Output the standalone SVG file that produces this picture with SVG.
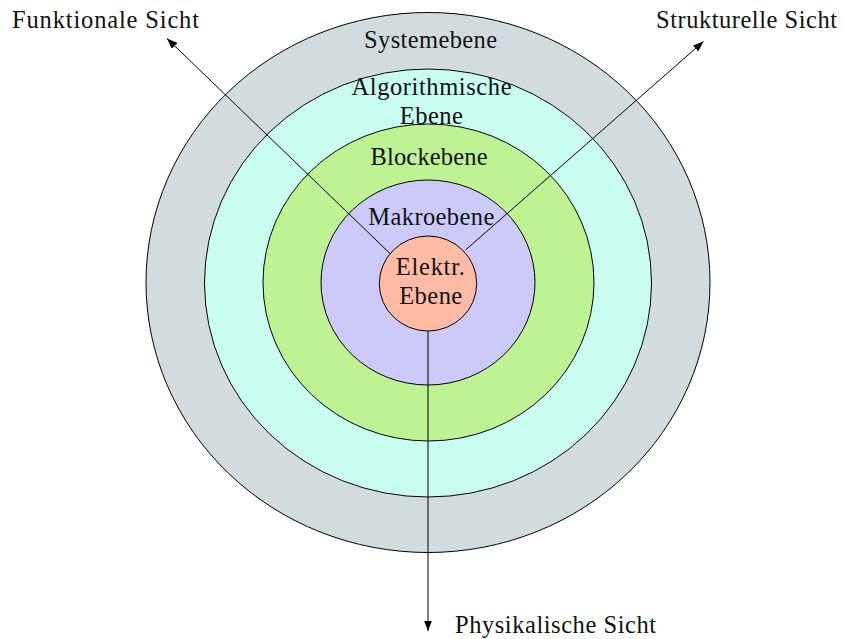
<svg xmlns="http://www.w3.org/2000/svg" width="843" height="639" viewBox="0 0 843 639">
  <defs>
    <marker id="arrow" markerUnits="userSpaceOnUse" markerWidth="11" markerHeight="8" refX="10.5" refY="4" orient="auto">
      <path d="M0,0 L10.5,4 L0,8 Z" fill="#000"/>
    </marker>
    <style>
      .ring { stroke: #000; stroke-width: 1; }
      .conn { stroke: #000; stroke-width: 1; fill: none; marker-end: url(#arrow); }
      text { font-family: "Liberation Serif", "Times New Roman", serif; font-size: 24.5px; fill: #111; }
      .mid { text-anchor: middle; }
    </style>
  </defs>
  <rect width="843" height="639" fill="#fff"/>

  <!-- levels, outermost first -->
  <g id="systemebene">
    <ellipse class="ring" cx="428" cy="282.5" rx="282" ry="270" fill="#d2dcdf"/>
  </g>
  <g id="algorithmische-ebene">
    <ellipse class="ring" cx="428" cy="283" rx="223.5" ry="214" fill="#c8fdf0"/>
  </g>
  <g id="blockebene">
    <ellipse class="ring" cx="428.5" cy="282.5" rx="165.5" ry="158.5" fill="#bff292"/>
  </g>
  <g id="makroebene">
    <ellipse class="ring" cx="428" cy="282.5" rx="107" ry="102.5" fill="#cccaf8"/>
  </g>
  <g id="elektr-ebene">
    <ellipse class="ring" cx="428" cy="283.5" rx="48.7" ry="47.5" fill="#ffbba3"/>
  </g>

  <!-- view axes -->
  <g id="connectors">
    <line class="conn" x1="390" y1="253.5" x2="167" y2="38.5"/>
    <line class="conn" x1="465.5" y1="250" x2="703.5" y2="41.5"/>
    <line class="conn" x1="428" y1="331" x2="428" y2="631"/>
  </g>

  <!-- labels -->
  <g id="labels">
    <text x="12" y="28" textLength="187">Funktionale Sicht</text>
    <text x="656" y="28" textLength="181">Strukturelle Sicht</text>
    <text x="455" y="633" textLength="201">Physikalische Sicht</text>
    <text class="mid" x="430.5" y="48" textLength="133">Systemebene</text>
    <text class="mid" x="431.5" y="95" textLength="160">Algorithmische</text>
    <text class="mid" x="431.3" y="124" textLength="63">Ebene</text>
    <text class="mid" x="429" y="165" textLength="117">Blockebene</text>
    <text class="mid" x="431.3" y="225" textLength="126">Makroebene</text>
    <text class="mid" x="430.3" y="275" textLength="69">Elektr.</text>
    <text class="mid" x="430.7" y="303.5" textLength="63">Ebene</text>
  </g>
</svg>
